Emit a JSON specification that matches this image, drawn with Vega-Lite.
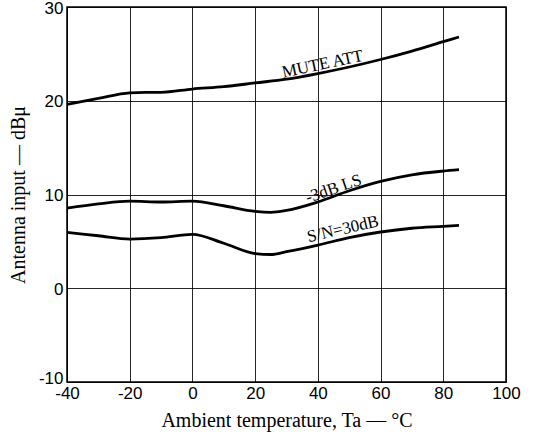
{
  "$schema": "https://vega.github.io/schema/vega-lite/v6.json",
  "width": 439,
  "height": 375,
  "autosize": "none",
  "padding": {"left": 67, "top": 7, "right": 40, "bottom": 56},
  "background": "white",
  "config": {
    "view": {"stroke": "black", "strokeWidth": 1.5},
    "axis": {
      "gridColor": "black", "gridOpacity": 0.85, "gridWidth": 1,
      "domainColor": "black", "ticks": false, "labelFlush": false, "labelOverlap": false,
      "labelFont": "Liberation Sans", "labelFontSize": 17, "labelColor": "black",
      "labelExpr": "datum.value + ''",
      "titleFont": "Liberation Serif", "titleFontSize": 20, "titleFontWeight": "normal", "titleColor": "black"
    }
  },
  "datasets": {
    "curves": [
      {"t": -40, "v": 19.6, "s": "MUTE ATT"},
      {"t": -30, "v": 20.25, "s": "MUTE ATT"},
      {"t": -20, "v": 20.85, "s": "MUTE ATT"},
      {"t": -15, "v": 20.9, "s": "MUTE ATT"},
      {"t": -10, "v": 20.9, "s": "MUTE ATT"},
      {"t": 0, "v": 21.25, "s": "MUTE ATT"},
      {"t": 10, "v": 21.5, "s": "MUTE ATT"},
      {"t": 20, "v": 21.9, "s": "MUTE ATT"},
      {"t": 30, "v": 22.3, "s": "MUTE ATT"},
      {"t": 40, "v": 22.9, "s": "MUTE ATT"},
      {"t": 50, "v": 23.6, "s": "MUTE ATT"},
      {"t": 60, "v": 24.4, "s": "MUTE ATT"},
      {"t": 70, "v": 25.3, "s": "MUTE ATT"},
      {"t": 80, "v": 26.3, "s": "MUTE ATT"},
      {"t": 85, "v": 26.8, "s": "MUTE ATT"},
      {"t": -40, "v": 8.55, "s": "-3dB LS"},
      {"t": -30, "v": 9.0, "s": "-3dB LS"},
      {"t": -20, "v": 9.3, "s": "-3dB LS"},
      {"t": -10, "v": 9.2, "s": "-3dB LS"},
      {"t": 0, "v": 9.3, "s": "-3dB LS"},
      {"t": 10, "v": 8.8, "s": "-3dB LS"},
      {"t": 20, "v": 8.2, "s": "-3dB LS"},
      {"t": 25, "v": 8.1, "s": "-3dB LS"},
      {"t": 30, "v": 8.3, "s": "-3dB LS"},
      {"t": 40, "v": 9.2, "s": "-3dB LS"},
      {"t": 50, "v": 10.4, "s": "-3dB LS"},
      {"t": 60, "v": 11.4, "s": "-3dB LS"},
      {"t": 70, "v": 12.1, "s": "-3dB LS"},
      {"t": 80, "v": 12.5, "s": "-3dB LS"},
      {"t": 85, "v": 12.65, "s": "-3dB LS"},
      {"t": -40, "v": 5.95, "s": "S/N=30dB"},
      {"t": -30, "v": 5.6, "s": "S/N=30dB"},
      {"t": -20, "v": 5.25, "s": "S/N=30dB"},
      {"t": -10, "v": 5.4, "s": "S/N=30dB"},
      {"t": 0, "v": 5.75, "s": "S/N=30dB"},
      {"t": 10, "v": 4.8, "s": "S/N=30dB"},
      {"t": 20, "v": 3.7, "s": "S/N=30dB"},
      {"t": 25, "v": 3.6, "s": "S/N=30dB"},
      {"t": 30, "v": 3.9, "s": "S/N=30dB"},
      {"t": 40, "v": 4.6, "s": "S/N=30dB"},
      {"t": 50, "v": 5.4, "s": "S/N=30dB"},
      {"t": 60, "v": 6.0, "s": "S/N=30dB"},
      {"t": 70, "v": 6.4, "s": "S/N=30dB"},
      {"t": 80, "v": 6.6, "s": "S/N=30dB"},
      {"t": 85, "v": 6.7, "s": "S/N=30dB"}
    ],
    "labels": [
      {"t": 41.5, "v": 23.9, "label": "MUTE ATT", "angle": -12},
      {"t": 45, "v": 10.6, "label": "-3dB LS", "angle": -19},
      {"t": 48, "v": 6.3, "label": "S/N=30dB", "angle": -13}
    ]
  },
  "layer": [
    {
      "data": {"name": "curves"},
      "mark": {"type": "line", "color": "black", "strokeWidth": 2.8, "interpolate": "monotone"},
      "encoding": {
        "x": {"field": "t", "type": "quantitative", "scale": {"domain": [-40, 100], "nice": false},
              "axis": {"values": [-40, -20, 0, 20, 40, 60, 80, 100], "title": "Ambient temperature, Ta — °C", "titlePadding": 9, "labelPadding": 3}},
        "y": {"field": "v", "type": "quantitative", "scale": {"domain": [-10, 30], "nice": false},
              "axis": {"values": [-10, 0, 10, 20, 30], "title": "Antenna input — dBμ", "titlePadding": 10, "labelPadding": 4,
                       "labelOffset": {"condition": {"test": "datum.value == -10", "value": -4}, "value": 1}}},
        "detail": {"field": "s"}
      }
    },
    {
      "data": {"name": "labels"},
      "mark": {"type": "text", "font": "Liberation Serif", "fontSize": 17, "color": "black"},
      "encoding": {
        "x": {"field": "t", "type": "quantitative"},
        "y": {"field": "v", "type": "quantitative"},
        "text": {"field": "label"},
        "angle": {"field": "angle", "type": "quantitative", "scale": null}
      }
    }
  ]
}
